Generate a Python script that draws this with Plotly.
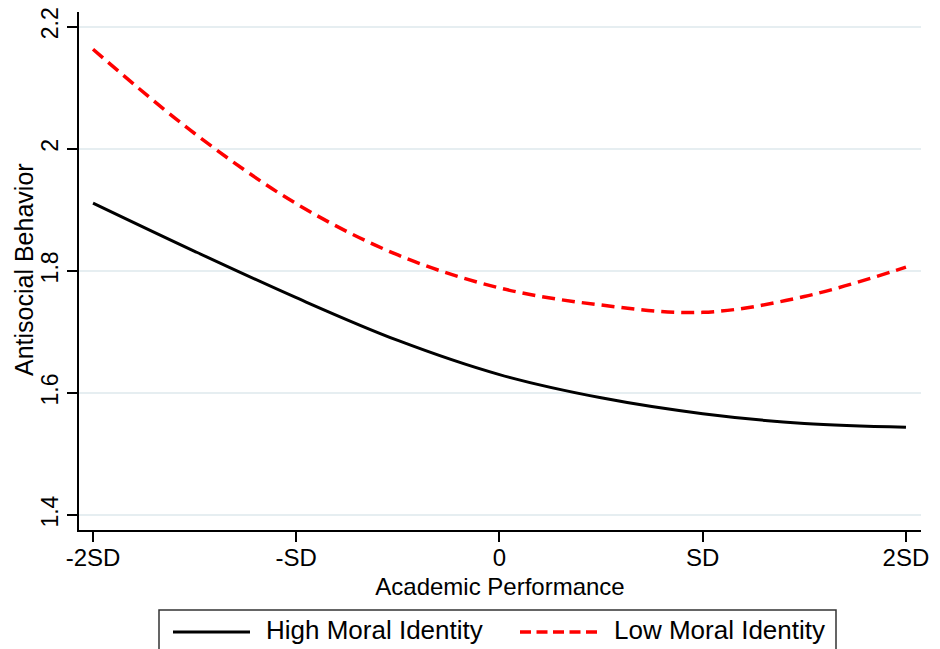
import plotly.graph_objects as go

# Data
x_vals = [-2, -1.5, -1, -0.5, 0, 0.5, 1, 1.5, 2]
x_tick_vals = [-2, -1, 0, 1, 2]
x_tick_text = ["-2SD", "-SD", "0", "SD", "2SD"]
y_tick_vals = [1.4, 1.6, 1.8, 2.0, 2.2]
y_tick_text = ["1.4", "1.6", "1.8", "2", "2.2"]
high_moral = [1.911, 1.832, 1.756, 1.686, 1.630, 1.592, 1.566, 1.550, 1.544]
low_moral = [2.163, 2.025, 1.910, 1.826, 1.772, 1.744, 1.732, 1.758, 1.806]
series_names = ["High Moral Identity", "Low Moral Identity"]
x_title = "Academic Performance"
y_title = "Antisocial Behavior"

FONT = "Liberation Sans, Arial, sans-serif"
OFF = 8  # default page body margin
W, H = 940 - OFF, 649 - OFF
ML, MR, MT, MB = 79 - OFF, 19, 12 - OFF, 119
PW, PH = W - ML - MR, H - MT - MB

def px_x(p):
    return (p - OFF - ML) / PW

def px_y(p):
    return (H + OFF - MB - p) / PH

fig = go.Figure()
fig.add_trace(go.Scatter(x=x_vals, y=high_moral, mode="lines", name=series_names[0],
                         line=dict(color="black", width=3, shape="spline"), showlegend=False))
fig.add_trace(go.Scatter(x=x_vals, y=low_moral, mode="lines", name=series_names[1],
                         line=dict(color="#ff0000", width=3.5, shape="spline", dash="13px,7px"),
                         showlegend=False))

# Manual legend box (Stata style)
shapes = [
    dict(type="rect", xref="paper", yref="paper", x0=px_x(159), x1=px_x(836),
         y0=px_y(660), y1=px_y(610), line=dict(color="#333333", width=1.5), fillcolor="white"),
    dict(type="line", xref="paper", yref="paper", x0=px_x(173), x1=px_x(250),
         y0=px_y(632), y1=px_y(632), line=dict(color="black", width=3)),
    dict(type="line", xref="paper", yref="paper", x0=px_x(520), x1=px_x(597),
         y0=px_y(632), y1=px_y(632), line=dict(color="#ff0000", width=3.5, dash="11px,5.5px")),
]
annotations = [
    dict(text=series_names[0], xref="paper", yref="paper", x=px_x(264), y=px_y(630),
         xanchor="left", yanchor="middle", showarrow=False, font=dict(size=26, color="black", family=FONT)),
    dict(text=series_names[1], xref="paper", yref="paper", x=px_x(612), y=px_y(630),
         xanchor="left", yanchor="middle", showarrow=False, font=dict(size=26, color="black", family=FONT)),
    dict(text=y_title, xref="paper", yref="paper", x=px_x(24), y=px_y(270), textangle=-90,
         xanchor="center", yanchor="middle", showarrow=False, font=dict(size=25, color="black", family=FONT)),
]

fig.update_layout(
    width=W, height=H,
    margin=dict(l=ML, r=MR, t=MT, b=MB, autoexpand=False),
    paper_bgcolor="white", plot_bgcolor="white",
    font=dict(family=FONT, size=24, color="black"),
    shapes=shapes, annotations=annotations,
    showlegend=False,
)
fig.update_xaxes(
    range=[-2.069, 2.074], tickvals=x_tick_vals, ticktext=x_tick_text,
    ticks="outside", ticklen=10, tickwidth=1.5, tickcolor="black",
    showline=True, linecolor="black", linewidth=2, showgrid=False, zeroline=False,
    title=dict(text=x_title, standoff=8, font=dict(size=24)),
    tickfont=dict(size=24), automargin=False, ticklabelstandoff=-5,
    ticklabeloverflow="allow",
)
fig.update_yaxes(
    range=[1.3755, 2.224], tickvals=y_tick_vals, ticktext=y_tick_text, tickangle=-90,
    ticks="outside", ticklen=10, tickwidth=1.5, tickcolor="black",
    showline=True, linecolor="black", linewidth=2, showgrid=True, gridcolor="#e6eef1", gridwidth=1.5,
    zeroline=False,
    tickfont=dict(size=23), automargin=False, ticklabeloverflow="allow",
)

fig.write_html("out.html")
